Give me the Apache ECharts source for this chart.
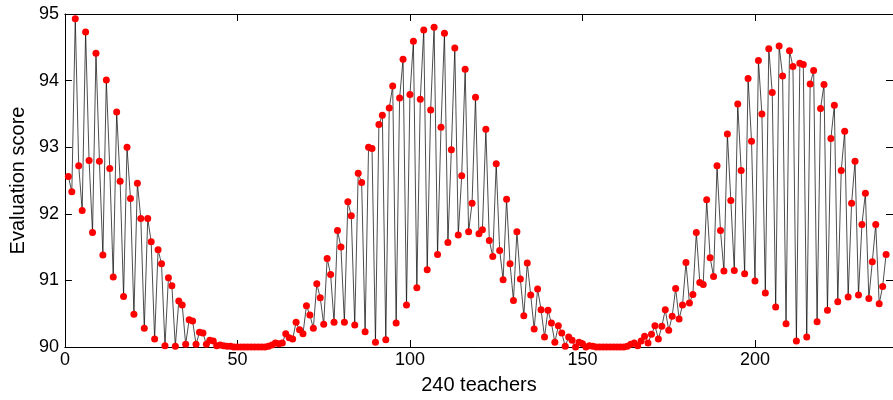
<!DOCTYPE html>
<html>
<head>
<meta charset="utf-8">
<script src="https://cdn.jsdelivr.net/npm/echarts@6/dist/echarts.min.js"></script>
<style>html,body{margin:0;padding:0;background:#fff;}#chart{width:893px;height:400px;}</style>
</head>
<body>
<div id="chart"></div>
<script>
// Evaluation score of each teacher (teacher number = position in the list, starting at 1)
const scores = [
92.56,92.33,94.93,92.72,92.05,94.73,92.80,91.72,94.41,92.79,
91.38,94.01,92.68,91.05,93.53,92.49,90.76,93.00,92.23,90.49,
92.46,91.93,90.28,91.93,91.58,90.12,91.46,91.25,90.02,91.04,
90.92,90.01,90.69,90.63,90.04,90.41,90.39,90.04,90.22,90.21,
90.04,90.10,90.09,90.02,90.03,90.02,90.01,90.01,90.00,90.00,
90.00,90.00,90.00,90.00,90.00,90.00,90.00,90.00,90.01,90.03,
90.06,90.05,90.06,90.20,90.14,90.12,90.37,90.26,90.20,90.62,
90.48,90.28,90.95,90.74,90.34,91.33,91.09,90.37,91.75,91.50,
90.37,92.18,91.97,90.33,92.61,92.47,90.23,93.00,92.98,90.07,
93.34,93.48,90.11,93.59,93.92,90.36,93.74,94.32,90.63,93.79,
94.59,90.89,93.72,94.76,91.16,93.56,94.80,91.39,93.30,94.71,
91.57,92.96,94.49,91.68,92.57,94.17,91.73,92.16,93.75,91.70,
91.76,93.27,91.60,91.36,92.75,91.45,91.01,92.22,91.25,90.70,
91.73,91.02,90.47,91.26,90.78,90.27,90.87,90.56,90.15,90.55,
90.36,90.07,90.32,90.21,90.01,90.15,90.10,90.00,90.07,90.05,
90.00,90.02,90.01,90.00,90.00,90.00,90.00,90.00,90.00,90.00,
90.00,90.00,90.01,90.04,90.06,90.02,90.09,90.16,90.06,90.19,
90.32,90.12,90.31,90.56,90.25,90.46,90.88,90.42,90.63,91.27,
90.66,90.79,91.72,90.97,90.94,92.21,91.34,91.06,92.72,91.75,
91.14,93.20,92.20,91.15,93.65,92.65,91.10,94.03,93.09,90.99,
94.30,93.50,90.81,94.48,93.82,90.60,94.52,94.07,90.35,94.45,
94.21,90.09,94.26,94.24,90.15,93.95,94.15,90.38,93.58,93.94,
90.55,93.13,93.63,90.68,92.65,93.24,90.75,92.16,92.79,90.78,
91.84,92.31,90.73,91.28,91.84,90.65,90.91,91.39
];
const xTicks = [0, 50, 100, 150, 200];
const yTicks = [90, 91, 92, 93, 94, 95];
const xTitle = '240 teachers';
const yTitle = 'Evaluation score';

const points = scores.map((v, i) => [i + 1, v]);
const font = 'Liberation Sans, Arial, sans-serif';
const chart = echarts.init(document.getElementById('chart'), null, {renderer: 'canvas'});
const axisLineStyle = {color: '#000', width: 1};
chart.setOption({
  animation: false,
  backgroundColor: '#fff',
  grid: {left: 64, top: 14, right: -5, bottom: 42, containLabel: false},
  xAxis: [{
    type: 'value', min: 0, max: 240, interval: 50, position: 'bottom',
    axisLine: {show: true, onZero: false, lineStyle: axisLineStyle},
    axisTick: {show: true, inside: true, length: 7, lineStyle: axisLineStyle},
    axisLabel: {color: '#000', fontSize: 18, fontFamily: font, margin: 4, showMaxLabel: false,
      formatter: v => xTicks.includes(v) ? String(v) : ''},
    splitLine: {show: false},
    name: xTitle, nameLocation: 'middle', nameGap: 28,
    nameTextStyle: {color: '#000', fontSize: 20, fontFamily: font}
  }, {
    type: 'value', min: 0, max: 240, interval: 50, position: 'top',
    axisLine: {show: true, onZero: false, lineStyle: axisLineStyle},
    axisTick: {show: true, inside: true, length: 7, lineStyle: axisLineStyle},
    axisLabel: {show: false}, splitLine: {show: false}
  }],
  yAxis: [{
    type: 'value', min: 90, max: 95, interval: 1, position: 'left',
    axisLine: {show: true, onZero: false, lineStyle: axisLineStyle},
    axisTick: {show: true, inside: true, length: 7, lineStyle: axisLineStyle},
    axisLabel: {color: '#000', fontSize: 18, fontFamily: font, margin: 6,
      formatter: v => yTicks.includes(v) ? String(v) : ''},
    splitLine: {show: false},
    name: yTitle, nameLocation: 'middle', nameGap: 33, nameRotate: 90,
    nameTextStyle: {color: '#000', fontSize: 20, fontFamily: font}
  }, {
    type: 'value', min: 90, max: 95, interval: 1, position: 'right',
    axisLine: {show: true, onZero: false, lineStyle: axisLineStyle},
    axisTick: {show: true, inside: true, length: 7, lineStyle: axisLineStyle},
    axisLabel: {show: false}, splitLine: {show: false}
  }],
  series: [{
    type: 'line', xAxisIndex: 0, yAxisIndex: 0, data: points,
    symbol: 'circle', symbolSize: 7, showAllSymbol: true,
    itemStyle: {color: '#ff0000', borderWidth: 0},
    lineStyle: {color: '#000', width: 0.7},
    clip: false, z: 3
  }]
});
</script>
</body>
</html>
